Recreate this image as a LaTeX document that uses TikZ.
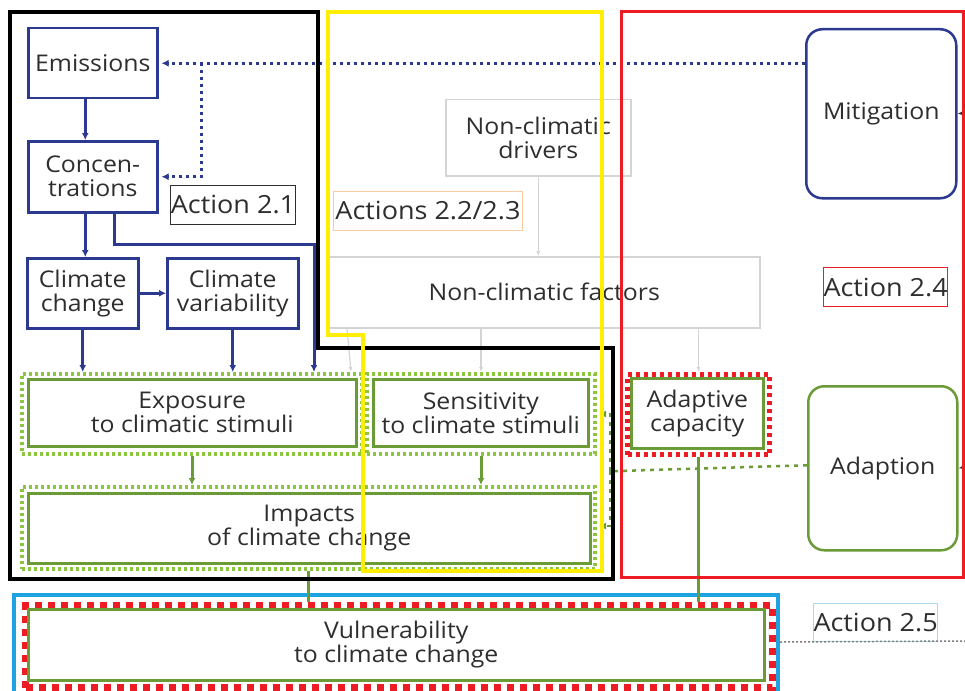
\documentclass[tikz,border=0pt]{standalone}
\usepackage{fontspec}
\setmainfont{Open Sans}[FakeStretch=1.08]
\usetikzlibrary{arrows.meta,calc}
\definecolor{navy}{HTML}{2B3990}
\definecolor{dgreen}{HTML}{6B9B37}
\definecolor{lgreen}{HTML}{8CC63F}
\definecolor{rred}{HTML}{ED1C24}
\definecolor{yyellow}{HTML}{FFEE00}
\definecolor{ccyan}{HTML}{1FA3E0}
\definecolor{lgray}{HTML}{D4D4D4}
\definecolor{txt}{HTML}{2E2E2E}
\definecolor{orangeb}{HTML}{F9CBA3}
\definecolor{lblue}{HTML}{A8D8F2}
\tikzset{
  base/.style={anchor=north west, inner sep=0pt, align=center, text=txt,
    font=\fontsize{23}{24}\selectfont},
  bluebox/.style={base, draw=navy, line width=2.5pt, fill=white},
  greenbox/.style={base, draw=dgreen, line width=2.5pt, fill=white},
  graybox/.style={base, draw=lgray, line width=1.5pt, fill=white},
  gdotframe/.style={anchor=north west, inner sep=0pt, draw=lgreen, line width=4pt, dash pattern=on 3pt off 3pt},
  rdotframe/.style={anchor=north west, inner sep=0pt, draw=rred, line width=5pt, dash pattern=on 4pt off 4pt},
  rdashframe/.style={anchor=north west, inner sep=0pt, draw=rred, line width=7pt, dash pattern=on 7pt off 6pt},
  actlabel/.style={base, line width=1pt, font=\fontsize{25}{26}\selectfont},
  tip/.style={-{Latex[length=7pt,width=7pt]}},
  bluearr/.style={tip, draw=navy, line width=3pt},
  bluedot/.style={tip, draw=navy, line width=3pt, dash pattern=on 3pt off 4pt},
  greenarr/.style={tip, draw=dgreen, line width=3pt},
  greenline/.style={draw=dgreen, line width=3pt},
  grayarr/.style={-{Latex[length=5pt,width=4pt]}, draw=lgray, line width=1.2pt},
  gdash/.style={draw=dgreen, line width=2.5pt, dash pattern=on 4pt off 5pt},
  region/.style={line width=4pt},
}
\begin{document}
\begin{tikzpicture}[x=1pt,y=-1pt]
\useasboundingbox (0,0) rectangle (965,690);
\fill[white] (0,0) rectangle (965,690);

% grey (non-climatic) nodes
\node[graybox, minimum width=185pt, minimum height=76pt] (ndrv) at (445,99) {Non-climatic\\drivers};
\node[graybox, minimum width=431pt, minimum height=71pt] (nfac) at (328,256) {Non-climatic factors};

% action labels
\node[actlabel, draw=txt, minimum width=125pt, minimum height=39pt] (a21) at (170,185) {Action 2.1};
\node[actlabel, draw=orangeb, minimum width=189pt, minimum height=39pt] (a223) at (333,191) {Actions 2.2/2.3};
\node[actlabel, draw=rred, minimum width=124pt, minimum height=39pt] (a24) at (823,267) {Action 2.4};
\node[actlabel, draw=lblue, minimum width=124pt, minimum height=38pt] (a25) at (813,603) {Action 2.5};

% climate chain
\node[bluebox, minimum width=129pt, minimum height=70pt] (emis) at (27,27) {Emissions};
\node[bluebox, minimum width=129pt, minimum height=71pt] (conc) at (27,140) {Concen-\\trations};
\node[bluebox, minimum width=111pt, minimum height=70pt] (cc) at (26,257) {Climate\\change};
\node[bluebox, minimum width=131pt, minimum height=70pt] (cv) at (166,257) {Climate\\variability};

% framed green nodes
\node[gdotframe, minimum width=340pt, minimum height=80pt] (expoF) at (20,372) {};
\node[greenbox, minimum width=328pt, minimum height=67pt] (expo) at (27,378) {Exposure\\to climatic stimuli};
\node[gdotframe, minimum width=228pt, minimum height=80pt] (sensF) at (365,372) {};
\node[greenbox, minimum width=215pt, minimum height=67pt] (sens) at (372,378) {Sensitivity\\to climate stimuli};
\node[rdotframe, minimum width=142pt, minimum height=80pt] (adapF) at (625,372) {};
\node[greenbox, minimum width=132pt, minimum height=70pt] (adap) at (630,377) {Adaptive\\capacity};
\node[gdotframe, minimum width=573pt, minimum height=82pt] (impF) at (20,485) {};
\node[greenbox, minimum width=562pt, minimum height=70pt] (imp) at (27,492) {Impacts\\of climate change};

% vulnerability
\node[anchor=north west, inner sep=0pt, draw=ccyan, line width=4pt, minimum width=764pt, minimum height=104pt] (cyanbox) at (12,593) {};
\node[rdashframe, minimum width=747pt, minimum height=82pt] (vulF) at (22,602) {};
\node[greenbox, minimum width=736pt, minimum height=71pt] (vul) at (27,608) {Vulnerability\\to climate change};

% responses
\node[base, draw=navy, line width=2.5pt, rounded corners=16pt, minimum width=150pt, minimum height=169pt] (mit) at (805,28) {Mitigation};
\node[base, draw=dgreen, line width=2.5pt, rounded corners=16pt, minimum width=149pt, minimum height=164pt] (adapt) at (807,385) {Adaption};

% blue connectors
\coordinate (c1) at ([xshift=-7.5pt]conc.south);
\draw[bluearr] ([xshift=-7.5pt]emis.south) -- ([xshift=-7.5pt]conc.north);
\draw[bluearr] (c1) -- (c1 |- cc.north);
\draw[bluearr] ([xshift=21.5pt]conc.south) -- ++(0,31) -| ([xshift=-50pt]expoF.north east);
\draw[bluearr] (cc.east) -- (cv.west);
\draw[bluearr] (cc.south) -- (cc.south |- expoF.north);
\draw[bluearr] (cv.south) -- (cv.south |- expoF.north);
\draw[bluedot] (mit.west |- emis.east) -- ([xshift=3pt]emis.east);
\coordinate (br) at ([xshift=43pt]emis.east);
\draw[bluedot] (br) |- ([xshift=3pt]conc.east);

% grey connectors
\draw[grayarr] (ndrv.south) -- (ndrv.south |- nfac.north);
\draw[grayarr] ([xshift=19pt]nfac.south west) -- ([xshift=-13pt]expoF.north east);
\draw[grayarr] (sensF.north |- nfac.south) -- (sensF.north);
\draw[grayarr] (adapF.north |- nfac.south) -- (adapF.north);

% green connectors
\draw[greenarr] (expoF.south) -- (expoF.south |- impF.north);
\draw[greenarr] (sensF.south) -- (sensF.south |- impF.north);
\draw[greenline] (impF.south) -- (impF.south |- vulF.north);
\draw[greenline] (adapF.south) -- (adapF.south |- vulF.north);
\coordinate (jn) at ($(adapt.west)+(-197,3)$);
\draw[gdash] ([yshift=3pt]adapt.west) -- (jn);
\draw[gdash, tip] (jn) |- ([xshift=2pt]sensF.east);
\draw[gdash, tip] (jn) |- ([xshift=2pt,yshift=2pt]impF.east);

% grey dotted line of Action 2.5
\coordinate (r25) at (965,641);
\draw[gray, line width=1.5pt, dash pattern=on 2pt off 2pt] (cyanbox.east |- a25.south) -- (r25);

% arrows entering from the right edge
\coordinate (m1) at (965,113);
\coordinate (m2) at (965,467);
\draw[-{Latex[length=5pt,width=4pt]}, txt, line width=1pt] (m1) -- (mit.east);
\draw[-{Latex[length=5pt,width=4pt]}, txt, line width=1pt] (m2) -- (adapt.east);

% region outlines (on top)
\draw[region, black] (10,12) -- (318,12) -- (318,348) -- (613,348) -- (613,579) -- (10,579) -- cycle;
\draw[region, yyellow] (328,12) -- (602,12) -- (602,571) -- (363,571) -- (363,335) -- (328,335) -- cycle;
\draw[line width=3pt, rred] (621,12) -- (963,12) -- (963,577) -- (621,577) -- cycle;
\end{tikzpicture}
\end{document}
